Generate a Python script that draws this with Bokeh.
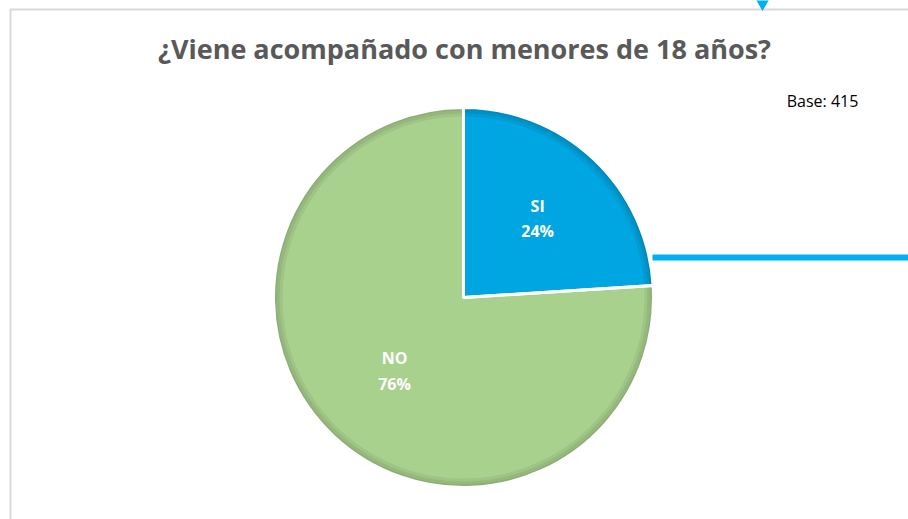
import math
from bokeh.plotting import figure
from bokeh.models import ColumnDataSource, Range1d
from bokeh.core.properties import value
from bokeh.embed import file_html
from bokeh.resources import INLINE

# ---- data ----
categories = ["SI", "NO"]
percents = [24, 76]
colors = ["#00A6E2", "#A9D18E"]
title_text = "¿Viene acompañado con menores de 18 años?"
base_text = "Base: 415"

W, H = 908, 519
p = figure(width=W, height=H, output_backend="svg", toolbar_location=None,
           x_range=Range1d(0, W), y_range=Range1d(0, H), min_border=0)
p.axis.visible = False
p.grid.visible = False
p.outline_line_color = None
p.background_fill_color = "white"

def X(rx):
    return rx
def Y(ry):
    return H - ry

# chart border (top and left)
p.line([X(10), X(10), X(912)], [Y(525), Y(9), Y(9)], line_color="#D9D9D9", line_width=2)

# pie
cx, cy, r = X(463), Y(297), 190
total = sum(percents)
starts, ends = [], []
acc = 0.0
for v in percents:
    a0 = math.pi / 2 - 2 * math.pi * acc / total
    acc += v
    a1 = math.pi / 2 - 2 * math.pi * acc / total
    starts.append(a0)
    ends.append(a1)
src = ColumnDataSource(dict(cat=categories, pct=percents, start=starts, end=ends, color=colors,
                            x=[cx] * 2, y=[cy] * 2))
p.wedge(x="x", y="y", radius=r, start_angle="start", end_angle="end", direction="clock",
        fill_color="color", line_color=None, source=src)
# soft inner shading toward the rim
for w in (9, 6, 3):
    p.annular_wedge(x="x", y="y", inner_radius=r - w, outer_radius=r, start_angle="start",
                    end_angle="end", direction="clock", fill_color="black", fill_alpha=0.06,
                    line_color=None, source=src)
p.wedge(x="x", y="y", radius=r, start_angle="start", end_angle="end", direction="clock",
        fill_color=None, line_color="white", line_width=3, source=src)

# labels
lab_frac = [0.57, 0.53]
lab_x, lab_y = [], []
for a0, a1, f in zip(starts, ends, lab_frac):
    mid = (a0 + a1) / 2
    lab_x.append(cx + r * f * math.cos(mid))
    lab_y.append(cy + r * f * math.sin(mid))
labels = [f"{c}\n{v}%" for c, v in zip(categories, percents)]
p.text(x=lab_x, y=lab_y, text=labels, text_color="white", text_font=value("Open Sans"),
       text_font_style="bold", text_font_size="16px", text_align="center",
       text_baseline="middle", text_line_height=1.15)

# decorative connector line and marker
p.line([X(652), X(912)], [Y(257), Y(257)], line_color="#00B0F0", line_width=6)
p.scatter([X(762)], [Y(3)], marker="inverted_triangle", size=13, fill_color="#00B0F0", line_color=None)

# title and base note
p.text(x=[X(464)], y=[Y(48)], text=[title_text], text_color="#595959", text_font=value("Open Sans"),
       text_font_style="bold", text_font_size="27px", text_align="center", text_baseline="middle")
p.text(x=[X(822)], y=[Y(100)], text=[base_text], text_color="black", text_font=value("Open Sans"),
       text_font_size="16px", text_align="center", text_baseline="middle")

open("out.html", "w").write(file_html(p, INLINE))
